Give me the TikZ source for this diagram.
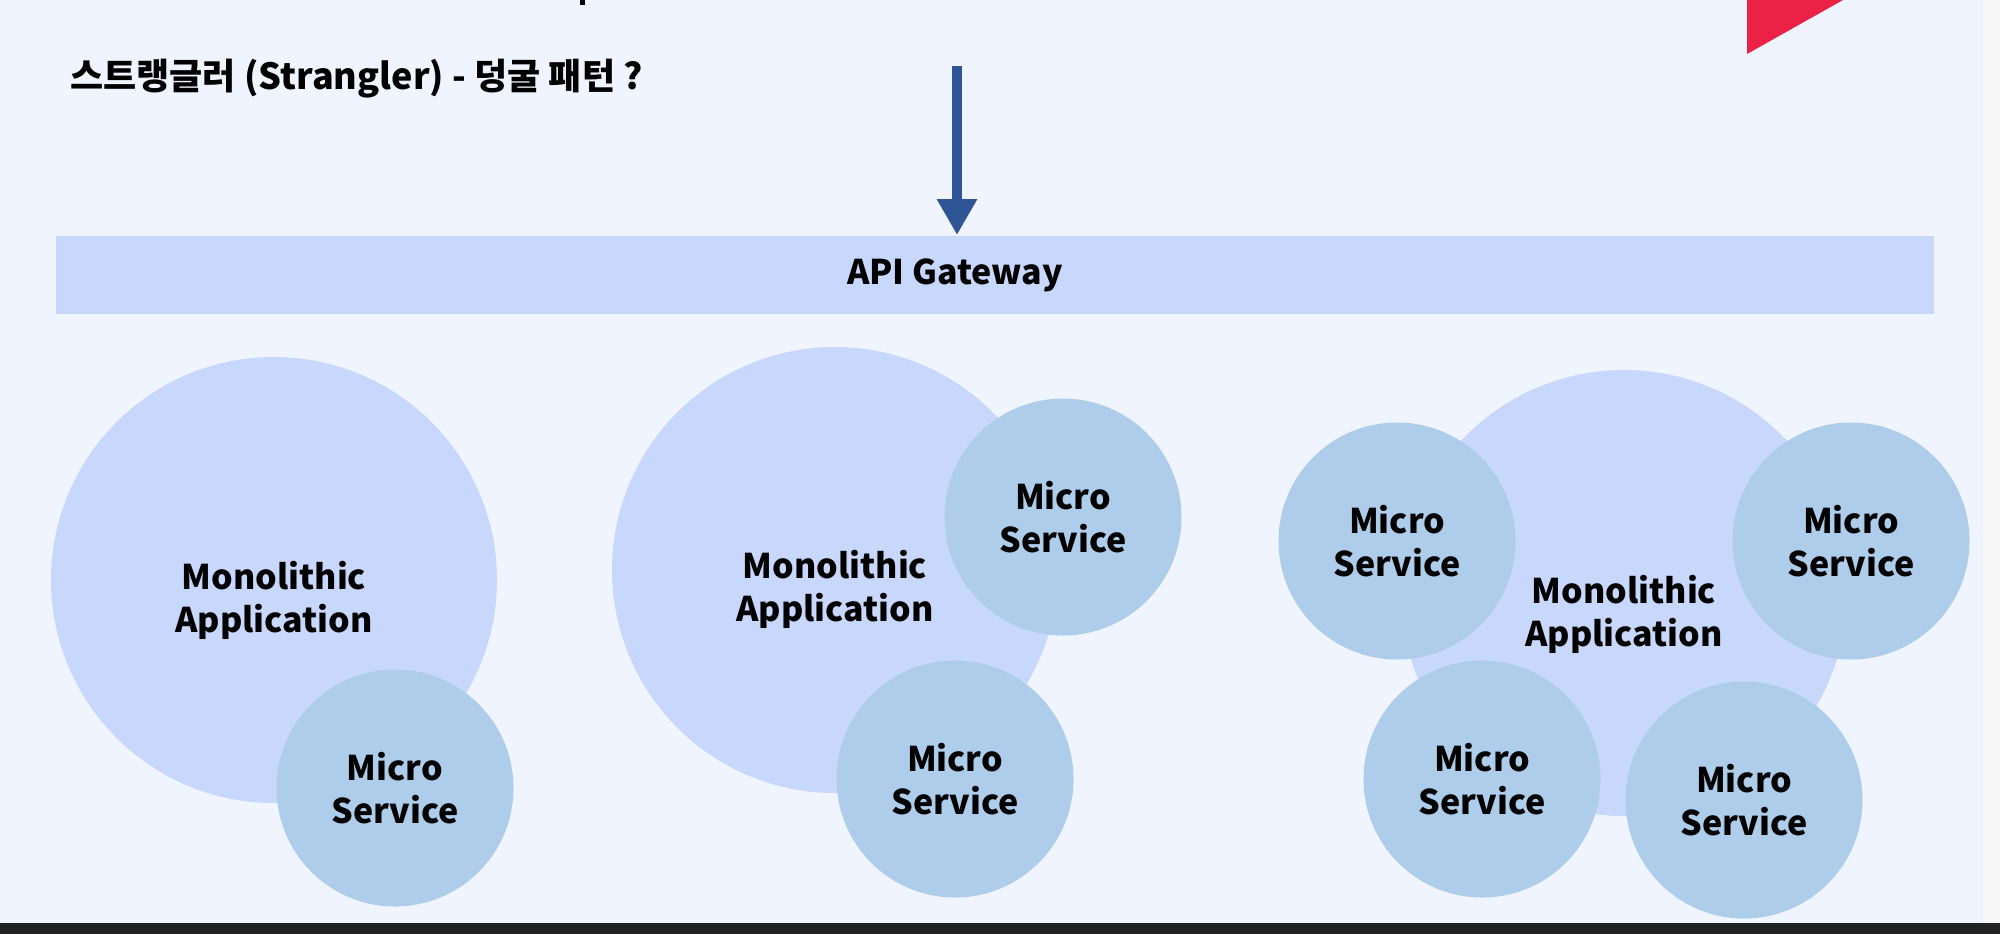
\documentclass[tikz,border=0pt]{standalone}
\usepackage{fontspec}
\setmainfont{Noto Sans CJK KR}
\usetikzlibrary{arrows.meta}
\definecolor{bgc}{HTML}{EFF4FE}
\definecolor{sidec}{HTML}{F7F7F8}
\definecolor{darkc}{HTML}{232323}
\definecolor{gatec}{HTML}{C8D8FC}
\definecolor{monoc}{HTML}{C8D8FC}
\definecolor{microc}{HTML}{AECDEB}
\definecolor{arrowc}{HTML}{2F5597}
\definecolor{redc}{HTML}{EC2146}
\tikzset{
  mono/.style={circle, fill=monoc, inner sep=0pt, minimum size=446pt*0.5},
  micro/.style={circle, fill=microc, inner sep=0pt, minimum size=237pt*0.5},
  lbl/.style={font=\fontsize{17pt}{21.5pt}\selectfont\bfseries, align=center, text=black},
  gate/.style={fill=gatec, inner sep=0pt, minimum width=939pt, minimum height=39pt},
}
\begin{document}
\begin{tikzpicture}[x=0.5pt,y=-0.5pt]
\useasboundingbox (0,0) rectangle (2000,934);
\fill[bgc] (0,0) rectangle (1983,923);
\fill[sidec] (1983,0) rectangle (2000,923);
\fill[darkc] (0,923) rectangle (2000,934);
\fill[redc] (1747,0) -- (1843,0) -- (1747,54) -- cycle;
\fill[black] (580,0) rectangle (585,5);
\node[anchor=west, font=\fontsize{18pt}{21pt}\selectfont\bfseries, inner sep=0pt] (title) at (70,79) {스트랭글러 (Strangler) - 덩굴 패턴 ?};
\node[gate] (gw) at (995,275) {};
\node[lbl] (gwl) at (955,275) {API Gateway};
\coordinate (astart) at (957,66);
\draw[arrowc, line width=5pt, -{Triangle[width=19pt,length=18pt]}] (astart) -- (957,235);
% group 1
\node[mono] (m1) at (274,580) {};
\node[lbl] at (274,600) {Monolithic\\Application};
\node[micro] (s1) at (395,788) {};
\node[lbl] at (395,788) {Micro\\Service};
% group 2
\node[mono] (m2) at (835,570) {};
\node[lbl] at (835,589) {Monolithic\\Application};
\node[micro] (s2a) at (1063,517) {};
\node[lbl] at (1063,517) {Micro\\Service};
\node[micro] (s2b) at (955,779) {};
\node[lbl] at (955,779) {Micro\\Service};
% group 3
\node[mono] (m3) at (1624,593) {};
\node[micro] (s3a) at (1397,541) {};
\node[lbl] at (1397,541) {Micro\\Service};
\node[micro] (s3b) at (1851,541) {};
\node[lbl] at (1851,541) {Micro\\Service};
\node[micro] (s3c) at (1482,779) {};
\node[lbl] at (1482,779) {Micro\\Service};
\node[micro] (s3d) at (1744,800) {};
\node[lbl] at (1744,800) {Micro\\Service};
\node[lbl] at (1624,614) {Monolithic\\Application};
\end{tikzpicture}
\end{document}
